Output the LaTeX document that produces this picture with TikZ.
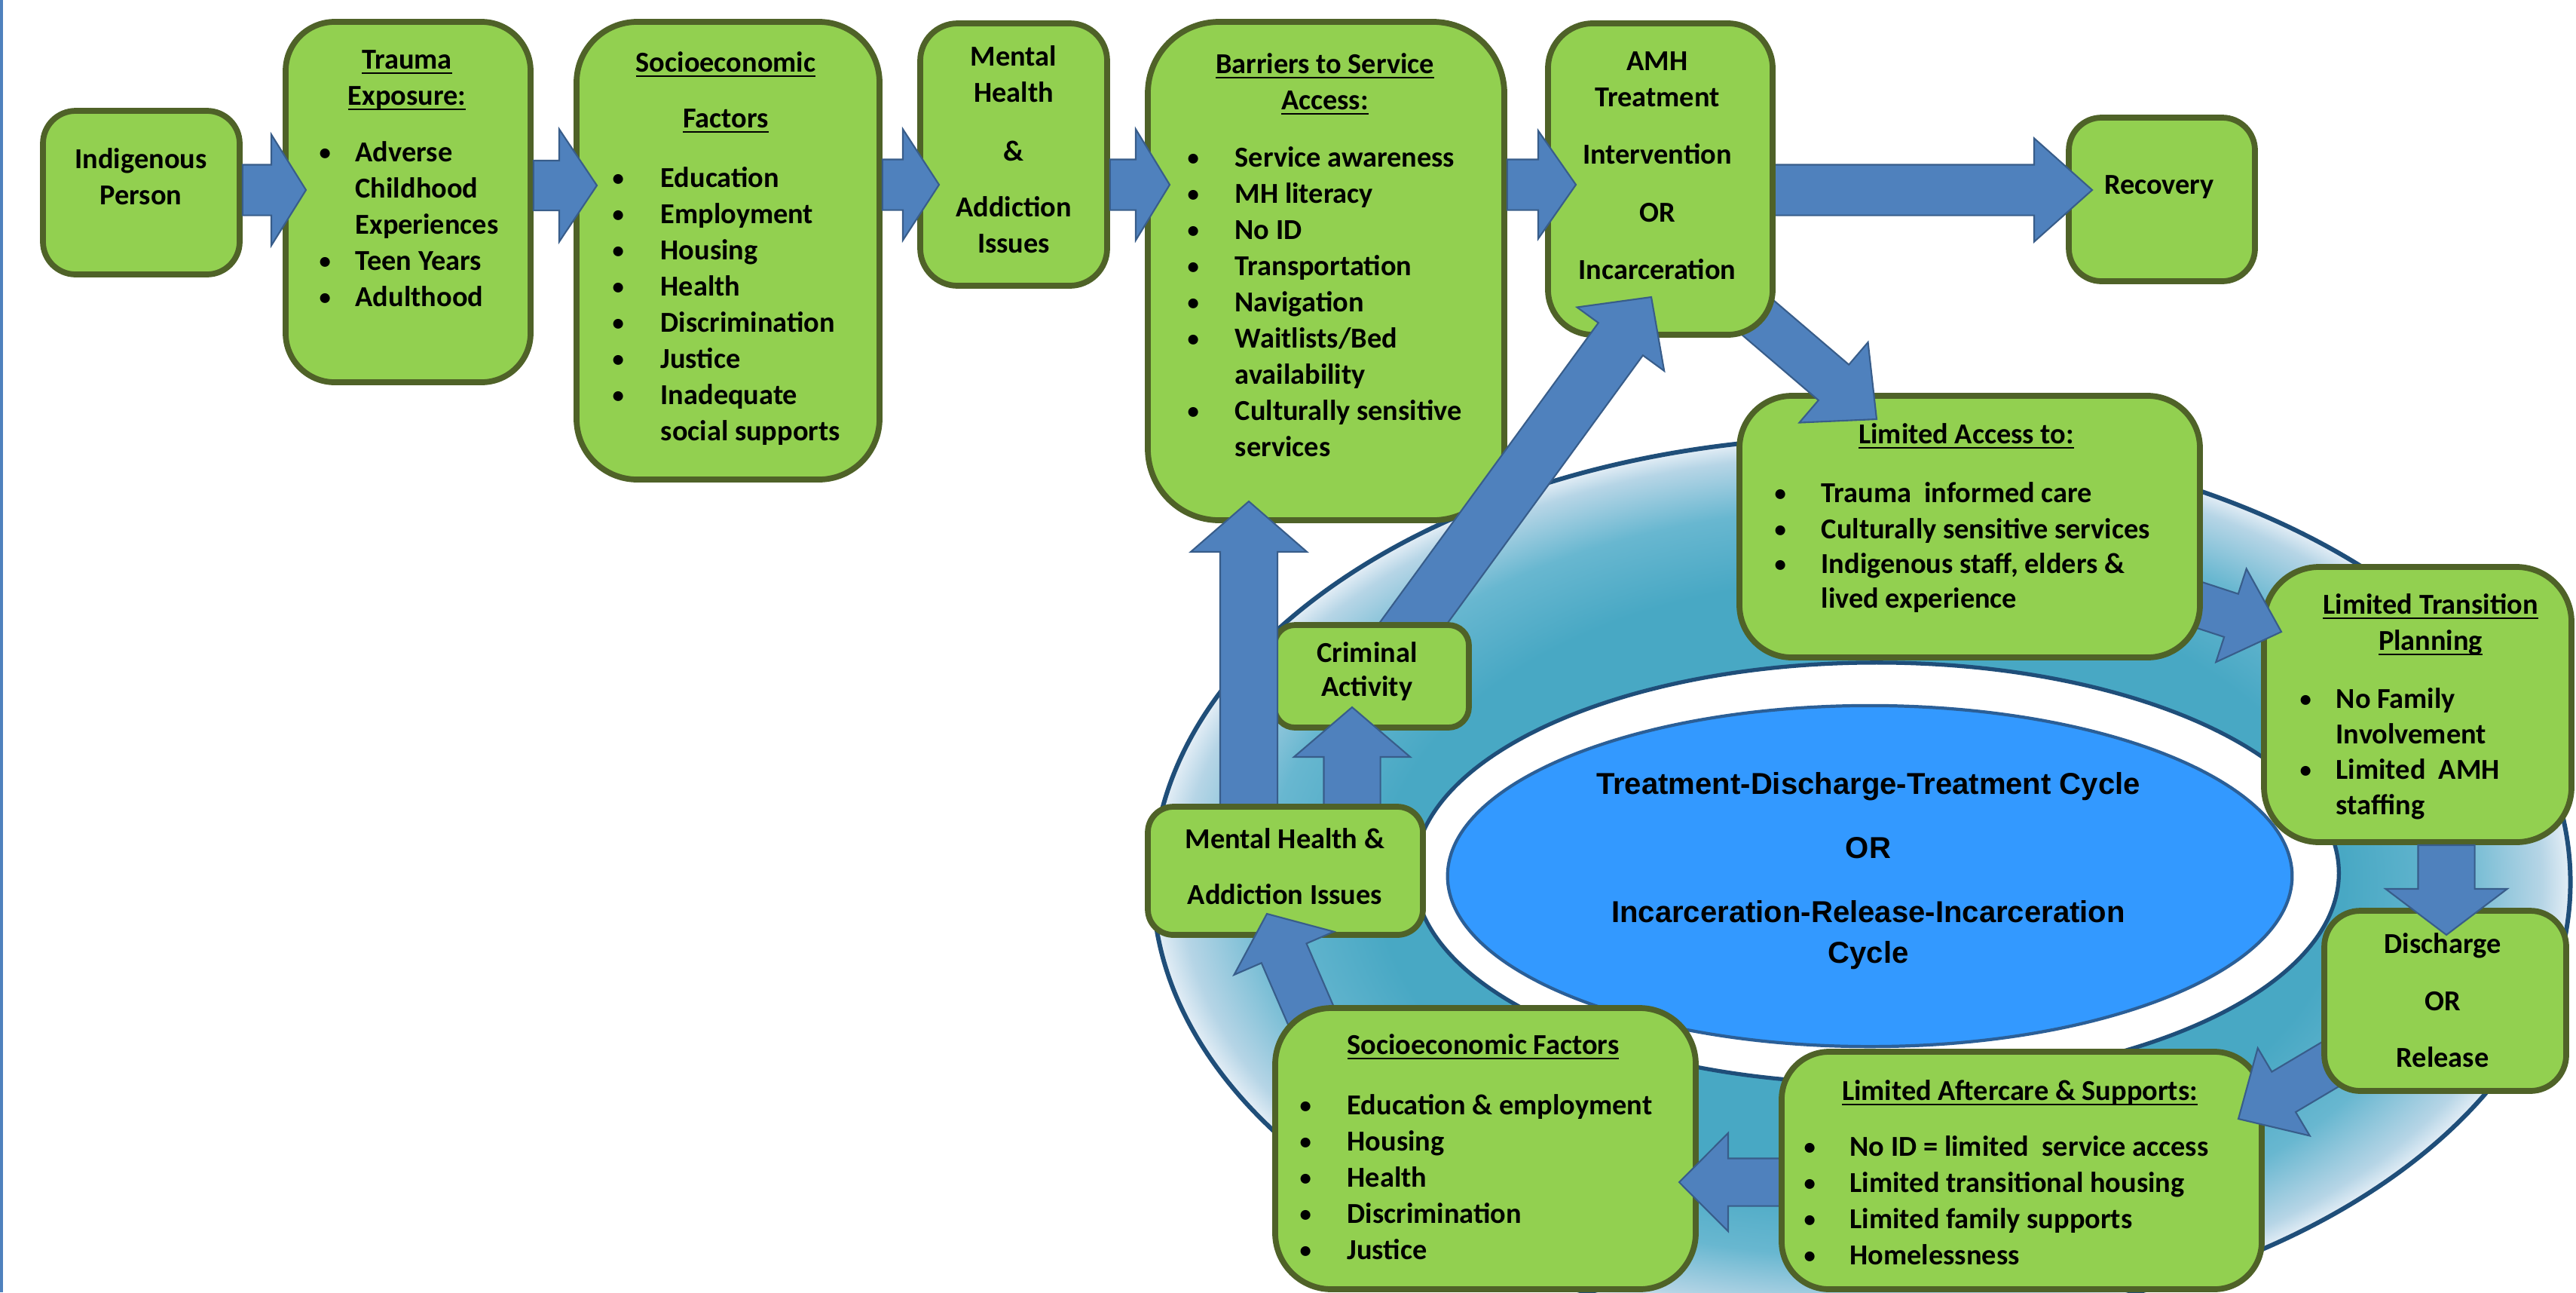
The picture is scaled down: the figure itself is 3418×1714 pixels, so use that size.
\documentclass[tikz,border=0pt]{standalone}
\usepackage{fontspec}
\setmainfont{Carlito}
\newfontfamily\arialf{Liberation Sans}
\usepackage{graphicx}
\usetikzlibrary{calc}
\newlength\px \setlength\px{0.01cm}
\newlength\bulw
\newsavebox\ulbox
\newcommand\uline[1]{\sbox\ulbox{#1}\rlap{\rule[-2.1pt]{\wd\ulbox}{0.7pt}}\usebox\ulbox}
\definecolor{gfill}{HTML}{92D050}
\definecolor{gline}{HTML}{4F6228}
\definecolor{afill}{HTML}{4F81BD}
\definecolor{aline}{HTML}{385D8A}
\definecolor{ringdark}{HTML}{1F4E79}
\definecolor{ringteal}{RGB}{72,168,196}
\definecolor{ringmid}{RGB}{104,183,208}
\definecolor{ringpale}{RGB}{182,213,230}
\definecolor{ringlight}{RGB}{228,238,246}
\definecolor{cblue}{HTML}{3399FF}
\definecolor{cline}{HTML}{2B5F97}
\pgfdeclareradialshading{ringshade}{\pgfpoint{0bp}{0bp}}{color(0bp)=(ringteal); color(17bp)=(ringteal); color(21bp)=(ringmid); color(24bp)=(ringpale); color(25bp)=(ringlight); color(50bp)=(ringlight)}
\tikzset{
  gbox/.style={draw=gline, line width=2.2pt, fill=gfill, rectangle, inner sep=0pt},
  barr/.style={fill=afill, draw=aline, line width=0.6pt, line join=miter},
  txt/.style={inner sep=0pt, text=black, font={\fontsize{10.9}{13.66}\selectfont\bfseries}},
  ctxt/.style={inner sep=0pt, text=black, font={\arialf\fontsize{11.4}{15.4}\selectfont\bfseries}}
}
\newcommand\gbox[5]{%
  \pgfmathsetmacro\gbW{(#4-#2)*0.01}%
  \pgfmathsetmacro\gbH{(#5-#3)*0.01}%
  \pgfmathsetmacro\gbR{0.2*min(#4-#2,#5-#3)*0.01}%
  \node[gbox, minimum width=\gbW cm, minimum height=\gbH cm, rounded corners=\gbR cm] (#1) at ({(#2+#4)/2},{(#3+#5)/2}) {};%
}
\newcommand\barrow[5]{%
  \pgfmathsetlengthmacro\baSW{#3*0.005cm}%
  \pgfmathsetlengthmacro\baHW{#4*0.005cm}%
  \pgfmathsetlengthmacro\baHL{#5*0.01cm}%
  \coordinate (bh) at ($(#2)!\baHL!(#1)$);%
  \draw[barr] ($(#1)!\baSW!90:(#2)$) -- ($(bh)!\baSW!90:(#2)$) -- ($(bh)!\baHW!90:(#2)$) -- (#2) -- ($(bh)!\baHW!-90:(#2)$) -- ($(bh)!\baSW!-90:(#2)$) -- ($(#1)!\baSW!-90:(#2)$) -- cycle;%
}
\newcommand\lbul[1]{\makebox[\bulw][l]{\raisebox{0.45pt}{\scalebox{0.8}{\textbullet}}}#1}
\newcommand\lcnt[1]{\hspace*{\bulw}#1}
\newcommand\hnode[4]{\node[txt, anchor=base] (#1) at (#2,#3) {\begin{tabular}[t]{@{}c@{}}#4\end{tabular}};}
\newcommand\lnode[5]{\node[txt, anchor=base west] (#1) at (#2,#3) {\setlength\bulw{#4\px}\begin{tabular}[t]{@{}l@{}}#5\end{tabular}};}
\begin{document}
\begin{tikzpicture}[x=0.01cm,y=-0.01cm]
\useasboundingbox (0,0) rectangle (3418,1714);
\clip (0,0) rectangle (3418,1714);
\fill[afill] (0,0) rectangle (4,1714);
% cycle ellipses
\shadedraw[shading=ringshade, draw=ringdark, line width=1.7pt] (2470,1170) ellipse [x radius=9.4cm, y radius=5.9cm];
\draw[fill=white, draw=ringdark, line width=1.5pt] (2490,1158) ellipse [x radius=6.13cm, y radius=2.79cm];
\draw[fill=cblue, draw=cline, line width=1.2pt] (2481,1162) ellipse [x radius=5.6cm, y radius=2.26cm];
\node[ctxt, anchor=base] (ctr) at (2479,1053) {\begin{tabular}[t]{@{}c@{}}Treatment-Discharge-Treatment Cycle\\[31\px]OR\\[31\px]Incarceration-Release-Incarceration\\Cycle\end{tabular}};
% top row boxes
\gbox{ind}{57}{147}{318}{364}
\gbox{tra}{379}{29}{704}{507}
\gbox{soc}{765}{29}{1167}{636}
\gbox{mh}{1221}{31}{1469}{379}
\gbox{bar}{1523}{29}{1996}{690}
\gbox{rec}{2745}{156}{2992}{373}
% top row arrows
\coordinate (a1s) at (ind.east |- 0,252); \coordinate (a1t) at (406,252);
\coordinate (a2s) at (tra.east |- 0,246); \coordinate (a2t) at (792,246);
\coordinate (a3s) at (soc.east |- 0,245); \coordinate (a3t) at (1246,245);
\coordinate (a4s) at (mh.east |- 0,245); \coordinate (a4t) at (1552,245);
\barrow{a1s}{a1t}{67}{147}{46}
\barrow{a2s}{a2t}{66}{149}{50}
\barrow{a3s}{a3t}{67}{147}{48}
\barrow{a4s}{a4t}{67}{147}{45}
\coordinate (a6s) at (2330,252); \coordinate (a6t) at (2776,252);
\barrow{a6s}{a6t}{67}{137}{77}
\gbox{ltp}{3004}{752}{3412}{1117}
\coordinate (a8s) at (2880,790); \coordinate (a8t) at (3027,838);
\barrow{a8s}{a8t}{60}{130}{70}
\gbox{lac}{2308}{525}{2919}{872}
\coordinate (a7s) at (2290,385); \coordinate (a7t) at (2490,556);
\barrow{a7s}{a7t}{62}{140}{75}
\gbox{amh}{2054}{31}{2352}{444}
\coordinate (a5s) at (bar.east |- 0,245); \coordinate (a5t) at (2091,245);
\barrow{a5s}{a5t}{67}{143}{50}
\coordinate (a15s) at (1859,849); \coordinate (a15t) at (2191,394);
\barrow{a15s}{a15t}{73}{143}{69}
\gbox{cri}{1691}{829}{1949}{965}
\coordinate (a13s) at (1657,1090); \coordinate (a13t) at (1657,665);
\barrow{a13s}{a13t}{76}{154}{67}
\coordinate (a14s) at (1794,1090); \coordinate (a14t) at (1794,938);
\barrow{a14s}{a14t}{75}{154}{66}
\gbox{mhl}{1523}{1070}{1888}{1240}
\coordinate (a12s) at (1745,1360); \coordinate (a12t) at (1681,1212);
\barrow{a12s}{a12t}{65}{144}{57}
\gbox{sol}{1692}{1337}{2250}{1710}
\coordinate (a11s) at (2380,1568); \coordinate (a11t) at (2228,1568);
\barrow{a11s}{a11t}{63}{130}{65}
\gbox{aft}{2364}{1395}{3001}{1710}
\coordinate (a10s) at (3120,1395); \coordinate (a10t) at (2970,1484);
\barrow{a10s}{a10t}{62}{135}{70}
\gbox{dis}{3084}{1208}{3405}{1447}
\coordinate (a9s) at (3246,1121); \coordinate (a9t) at (3246,1240);
\barrow{a9s}{a9t}{75}{161}{61}
% texts
\hnode{tind}{187}{223}{Indigenous\\Person}
\hnode{ttrah}{540}{91}{\uline{Trauma}\\\uline{Exposure:}}
\lnode{ttral}{423}{214}{48}{\lbul{Adverse}\\\lcnt{Childhood}\\\lcnt{Experiences}\\\lbul{Teen Years}\\\lbul{Adulthood}}
\hnode{tsoch}{963}{95}{\uline{Socioeconomic}\\[26\px]\uline{Factors}}
\lnode{tsocl}{812}{248}{64}{\lbul{Education}\\\lbul{Employment}\\\lbul{Housing}\\\lbul{Health}\\\lbul{Discrimination}\\\lbul{Justice}\\\lbul{Inadequate}\\\lcnt{social supports}}
\hnode{tmh}{1345}{87}{Mental\\Health\\[30\px]\&\\[26\px]Addiction\\Issues}
\hnode{tbarh}{1758}{97}{\uline{Barriers to Service}\\\uline{Access:}}
\lnode{tbarl}{1575}{221}{63}{\lbul{Service awareness}\\\lbul{MH literacy}\\\lbul{No ID}\\\lbul{Transportation}\\\lbul{Navigation}\\\lbul{Waitlists/Bed}\\\lcnt{availability}\\\lbul{Culturally sensitive}\\\lcnt{services}}
\hnode{tamh}{2199}{93}{AMH\\Treatment\\[28\px]Intervention\\[29\px]OR\\[28\px]Incarceration}
\hnode{trec}{2865}{257}{Recovery}
\hnode{tlach}{2609}{588}{\uline{Limited Access to:}}
\lnode{tlacl}{2354}{666}{62}{\lbul{Trauma\ \ informed care}\\\lbul{Culturally sensitive services}\\[-2\px]\lbul{Indigenous staff, elders \&}\\[-2\px]\lcnt{lived experience}}
\hnode{tltph}{3225}{814}{\uline{Limited Transition}\\\uline{Planning}}
\lnode{tltpl}{3051}{939}{48}{\lbul{No Family}\\[-1\px]\lcnt{Involvement}\\[-1\px]\lbul{Limited\ \ AMH}\\[-1\px]\lcnt{staffing}}
\hnode{tdis}{3241}{1264}{Discharge\\[28\px]OR\\[27\px]Release}
\hnode{tafth}{2680}{1459}{\uline{Limited Aftercare \& Supports:}}
\lnode{taftl}{2393}{1533}{61}{\lbul{No ID = limited\ \ service access}\\\lbul{Limited transitional housing}\\\lbul{Limited family supports}\\\lbul{Homelessness}}
\hnode{tsolh}{1968}{1398}{\uline{Socioeconomic Factors}}
\lnode{tsoll}{1724}{1478}{63}{\lbul{Education \& employment}\\\lbul{Housing}\\\lbul{Health}\\\lbul{Discrimination}\\\lbul{Justice}}
\hnode{tmhl}{1705}{1125}{Mental Health \&\\[26\px]Addiction Issues}
\hnode{tcri}{1814}{878}{Criminal\\[-3\px]Activity}
\end{tikzpicture}
\end{document}
